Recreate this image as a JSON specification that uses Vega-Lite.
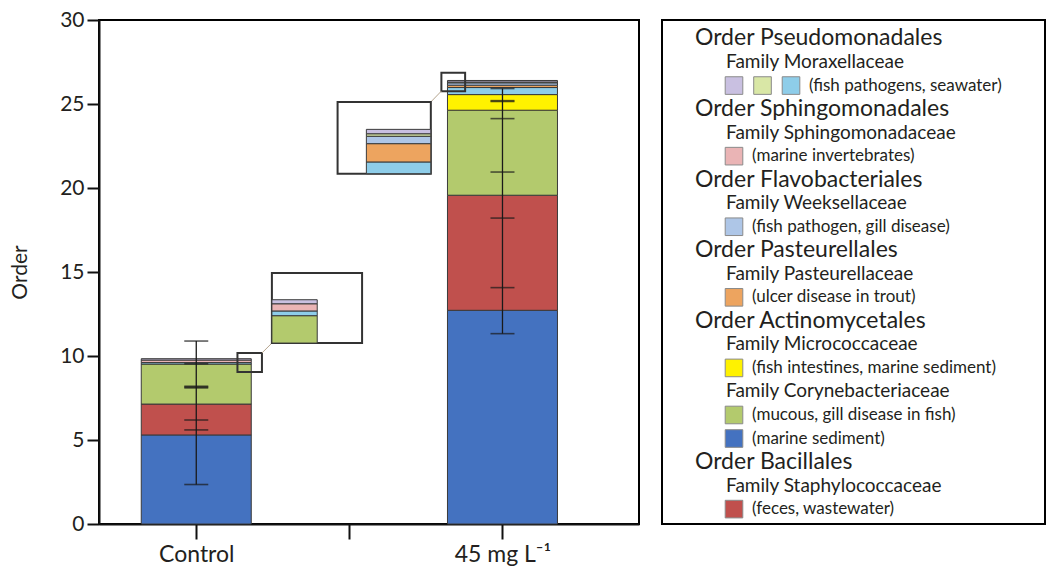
{
  "$schema": "https://vega.github.io/schema/vega-lite/v6.json",
  "padding": {"left": 8, "top": 8, "right": 0, "bottom": 0},
  "background": "white",
  "spacing": 21,
  "config": {
    "view": {"stroke": "black", "strokeWidth": 2},
    "font": "Lato",
    "text": {"font": "Lato", "color": "#231f20"}
  },
  "datasets": {
    "bars": [
      {"treatment": "Control", "pos": 1, "taxon": "Corynebacteriaceae (marine sediment)", "rank": 1, "value": 5.30},
      {"treatment": "Control", "pos": 1, "taxon": "Staphylococcaceae", "rank": 2, "value": 1.84},
      {"treatment": "Control", "pos": 1, "taxon": "Corynebacteriaceae (mucous)", "rank": 3, "value": 2.38},
      {"treatment": "Control", "pos": 1, "taxon": "Moraxellaceae (c)", "rank": 5, "value": 0.09},
      {"treatment": "Control", "pos": 1, "taxon": "Sphingomonadaceae", "rank": 9, "value": 0.15},
      {"treatment": "Control", "pos": 1, "taxon": "Moraxellaceae (a)", "rank": 10, "value": 0.08},
      {"treatment": "45 mg L-1", "pos": 3, "taxon": "Corynebacteriaceae (marine sediment)", "rank": 1, "value": 12.72},
      {"treatment": "45 mg L-1", "pos": 3, "taxon": "Staphylococcaceae", "rank": 2, "value": 6.85},
      {"treatment": "45 mg L-1", "pos": 3, "taxon": "Corynebacteriaceae (mucous)", "rank": 3, "value": 5.06},
      {"treatment": "45 mg L-1", "pos": 3, "taxon": "Micrococcaceae", "rank": 4, "value": 0.93},
      {"treatment": "45 mg L-1", "pos": 3, "taxon": "Moraxellaceae (c)", "rank": 5, "value": 0.42},
      {"treatment": "45 mg L-1", "pos": 3, "taxon": "Pasteurellaceae", "rank": 6, "value": 0.14},
      {"treatment": "45 mg L-1", "pos": 3, "taxon": "Weeksellaceae", "rank": 7, "value": 0.14},
      {"treatment": "45 mg L-1", "pos": 3, "taxon": "Moraxellaceae (b)", "rank": 8, "value": 0.05},
      {"treatment": "45 mg L-1", "pos": 3, "taxon": "Moraxellaceae (a)", "rank": 10, "value": 0.09}
    ],
    "errors": [
      {"treatment": "Control", "pos": 1, "taxon": "Corynebacteriaceae (marine sediment)", "lo": 2.35, "hi": 8.2},
      {"treatment": "Control", "pos": 1, "taxon": "Staphylococcaceae", "lo": 6.19, "hi": 8.1},
      {"treatment": "Control", "pos": 1, "taxon": "Corynebacteriaceae (mucous)", "lo": 8.15, "hi": 10.89},
      {"treatment": "Control", "pos": 1, "taxon": "upper taxa", "lo": 5.6, "hi": 9.54},
      {"treatment": "45 mg L-1", "pos": 3, "taxon": "Corynebacteriaceae (marine sediment)", "lo": 11.33, "hi": 14.07},
      {"treatment": "45 mg L-1", "pos": 3, "taxon": "Staphylococcaceae", "lo": 18.21, "hi": 20.95},
      {"treatment": "45 mg L-1", "pos": 3, "taxon": "Corynebacteriaceae (mucous)", "lo": 24.13, "hi": 25.15},
      {"treatment": "45 mg L-1", "pos": 3, "taxon": "Micrococcaceae", "lo": 25.2, "hi": 25.92}
    ],
    "zoomBoxes": [
      {"treatment": "Control", "x0": 1.269, "x1": 1.429, "y0": 9.05, "y1": 10.18},
      {"treatment": "45 mg L-1", "x0": 2.601, "x1": 2.756, "y0": 25.76, "y1": 26.86}
    ],
    "connectors": [
      {"treatment": "Control", "x0": 1.429, "y0": 10.18, "x1": 1.494, "y1": 10.77},
      {"treatment": "45 mg L-1", "x0": 2.601, "y0": 25.77, "x1": 2.532, "y1": 25.12}
    ],
    "insetFrames": [
      {"treatment": "Control", "x0": 1.494, "x1": 2.083, "y0": 10.77, "y1": 14.94},
      {"treatment": "45 mg L-1", "x0": 1.923, "x1": 2.532, "y0": 20.85, "y1": 25.12}
    ],
    "insetSegments": [
      {"treatment": "Control", "taxon": "Corynebacteriaceae (mucous)", "x0": 1.494, "x1": 1.79, "y0": 10.77, "y1": 12.40},
      {"treatment": "Control", "taxon": "Moraxellaceae (c)", "x0": 1.494, "x1": 1.79, "y0": 12.40, "y1": 12.68},
      {"treatment": "Control", "taxon": "Sphingomonadaceae", "x0": 1.494, "x1": 1.79, "y0": 12.68, "y1": 13.11},
      {"treatment": "Control", "taxon": "Moraxellaceae (a)", "x0": 1.494, "x1": 1.79, "y0": 13.11, "y1": 13.35},
      {"treatment": "45 mg L-1", "taxon": "Moraxellaceae (c)", "x0": 2.111, "x1": 2.532, "y0": 20.85, "y1": 21.55},
      {"treatment": "45 mg L-1", "taxon": "Pasteurellaceae", "x0": 2.111, "x1": 2.532, "y0": 21.55, "y1": 22.64},
      {"treatment": "45 mg L-1", "taxon": "Weeksellaceae", "x0": 2.111, "x1": 2.532, "y0": 22.64, "y1": 23.08},
      {"treatment": "45 mg L-1", "taxon": "Moraxellaceae (b)", "x0": 2.111, "x1": 2.532, "y0": 23.08, "y1": 23.23},
      {"treatment": "45 mg L-1", "taxon": "Moraxellaceae (a)", "x0": 2.111, "x1": 2.532, "y0": 23.23, "y1": 23.49}
    ],
    "legend": [
      {"line": 1, "kind": "order", "slot": 0, "label": "Order Pseudomonadales"},
      {"line": 2, "kind": "family", "slot": 1, "label": "Family Moraxellaceae"},
      {"line": 3, "kind": "swatch", "slot": 1, "taxon": "Moraxellaceae (a)"},
      {"line": 3, "kind": "swatch", "slot": 2, "taxon": "Moraxellaceae (b)"},
      {"line": 3, "kind": "swatch", "slot": 3, "taxon": "Moraxellaceae (c)"},
      {"line": 3, "kind": "note", "slot": 3, "label": "(fish pathogens, seawater)"},
      {"line": 4, "kind": "order", "slot": 0, "label": "Order Sphingomonadales"},
      {"line": 5, "kind": "family", "slot": 1, "label": "Family Sphingomonadaceae"},
      {"line": 6, "kind": "swatch", "slot": 1, "taxon": "Sphingomonadaceae"},
      {"line": 6, "kind": "note", "slot": 1, "label": "(marine invertebrates)"},
      {"line": 7, "kind": "order", "slot": 0, "label": "Order Flavobacteriales"},
      {"line": 8, "kind": "family", "slot": 1, "label": "Family Weeksellaceae"},
      {"line": 9, "kind": "swatch", "slot": 1, "taxon": "Weeksellaceae"},
      {"line": 9, "kind": "note", "slot": 1, "label": "(fish pathogen, gill disease)"},
      {"line": 10, "kind": "order", "slot": 0, "label": "Order Pasteurellales"},
      {"line": 11, "kind": "family", "slot": 1, "label": "Family Pasteurellaceae"},
      {"line": 12, "kind": "swatch", "slot": 1, "taxon": "Pasteurellaceae"},
      {"line": 12, "kind": "note", "slot": 1, "label": "(ulcer disease in trout)"},
      {"line": 13, "kind": "order", "slot": 0, "label": "Order Actinomycetales"},
      {"line": 14, "kind": "family", "slot": 1, "label": "Family Micrococcaceae"},
      {"line": 15, "kind": "swatch", "slot": 1, "taxon": "Micrococcaceae"},
      {"line": 15, "kind": "note", "slot": 1, "label": "(fish intestines, marine sediment)"},
      {"line": 16, "kind": "family", "slot": 1, "label": "Family Corynebacteriaceae"},
      {"line": 17, "kind": "swatch", "slot": 1, "taxon": "Corynebacteriaceae (mucous)"},
      {"line": 17, "kind": "note", "slot": 1, "label": "(mucous, gill disease in fish)"},
      {"line": 18, "kind": "swatch", "slot": 1, "taxon": "Corynebacteriaceae (marine sediment)"},
      {"line": 18, "kind": "note", "slot": 1, "label": "(marine sediment)"},
      {"line": 19, "kind": "order", "slot": 0, "label": "Order Bacillales"},
      {"line": 20, "kind": "family", "slot": 1, "label": "Family Staphylococcaceae"},
      {"line": 21, "kind": "swatch", "slot": 1, "taxon": "Staphylococcaceae"},
      {"line": 21, "kind": "note", "slot": 1, "label": "(feces, wastewater)"}
    ]
  },
  "hconcat": [
    {
      "width": 540,
      "height": 504,
      "layer": [
        {
          "data": {"name": "bars"},
          "mark": {"type": "bar", "width": 110, "stroke": "#3a3a3a", "strokeWidth": 1},
          "encoding": {
            "x": {
              "field": "pos", "type": "quantitative",
              "scale": {"domain": [0.3974, 3.859], "nice": false, "zero": false},
              "axis": {
                "values": [1, 2, 3], "title": null, "grid": false,
                "labelExpr": "datum.value == 1 ? 'Control' : datum.value == 3 ? '45 mg L⁻¹' : ''",
                "tickSize": 15, "tickWidth": 2, "tickColor": "#111", "domainColor": "#111", "domainWidth": 2,
                "labelFont": "Lato", "labelFontSize": 23, "labelColor": "#231f20", "labelPadding": 4
              }
            },
            "y": {
              "field": "value", "type": "quantitative", "stack": "zero",
              "scale": {"domain": [0, 30], "nice": false},
              "axis": {
                "values": [0, 5, 10, 15, 20, 25, 30], "title": "Order", "grid": false,
                "tickSize": 12, "tickWidth": 2, "tickColor": "#111", "domainColor": "#111", "domainWidth": 2,
                "labelFont": "Lato", "labelFontSize": 21, "labelColor": "#231f20", "labelPadding": 3,
                "titleFont": "Lato", "titleFontSize": 21, "titleFontWeight": "normal", "titleColor": "#231f20", "titlePadding": 19,
                "minExtent": 50, "maxExtent": 50
              }
            },
            "color": {
              "field": "taxon", "type": "nominal", "legend": null,
              "scale": {
                "domain": ["Moraxellaceae (a)", "Moraxellaceae (b)", "Moraxellaceae (c)", "Sphingomonadaceae", "Weeksellaceae", "Pasteurellaceae", "Micrococcaceae", "Corynebacteriaceae (mucous)", "Corynebacteriaceae (marine sediment)", "Staphylococcaceae"],
                "range": ["#c9c0e1", "#d9e7a6", "#8ecde9", "#eab4b5", "#aec6e7", "#eda45f", "#fff200", "#b3ca6d", "#4472c0", "#c0504d"]
              }
            },
            "order": {"field": "rank", "type": "quantitative"}
          }
        },
        {
          "data": {"name": "errors"},
          "mark": {"type": "rule", "color": "#1a1a1a", "strokeWidth": 1.3},
          "encoding": {
            "x": {"field": "pos", "type": "quantitative"},
            "y": {"aggregate": "min", "field": "lo", "type": "quantitative"},
            "y2": {"aggregate": "max", "field": "hi"}
          }
        },
        {
          "data": {"name": "errors"},
          "mark": {"type": "tick", "orient": "horizontal", "size": 24, "thickness": 1.6, "color": "#1a1a1a"},
          "encoding": {
            "x": {"field": "pos", "type": "quantitative"},
            "y": {"field": "lo", "type": "quantitative"}
          }
        },
        {
          "data": {"name": "errors"},
          "mark": {"type": "tick", "orient": "horizontal", "size": 24, "thickness": 1.6, "color": "#1a1a1a"},
          "encoding": {
            "x": {"field": "pos", "type": "quantitative"},
            "y": {"field": "hi", "type": "quantitative"}
          }
        },
        {
          "data": {"name": "zoomBoxes"},
          "mark": {"type": "rect", "filled": false, "stroke": "#333333", "strokeWidth": 2},
          "encoding": {
            "x": {"field": "x0", "type": "quantitative"},
            "x2": {"field": "x1"},
            "y": {"field": "y0", "type": "quantitative"},
            "y2": {"field": "y1"}
          }
        },
        {
          "data": {"name": "connectors"},
          "mark": {"type": "rule", "color": "#b5a58f", "strokeWidth": 1},
          "encoding": {
            "x": {"field": "x0", "type": "quantitative"},
            "x2": {"field": "x1"},
            "y": {"field": "y0", "type": "quantitative"},
            "y2": {"field": "y1"}
          }
        },
        {
          "data": {"name": "insetFrames"},
          "mark": {"type": "rect", "fill": "white", "stroke": "#333333", "strokeWidth": 2},
          "encoding": {
            "x": {"field": "x0", "type": "quantitative"},
            "x2": {"field": "x1"},
            "y": {"field": "y0", "type": "quantitative"},
            "y2": {"field": "y1"}
          }
        },
        {
          "data": {"name": "insetSegments"},
          "mark": {"type": "rect", "stroke": "#3a3a3a", "strokeWidth": 1},
          "encoding": {
            "x": {"field": "x0", "type": "quantitative"},
            "x2": {"field": "x1"},
            "y": {"field": "y0", "type": "quantitative"},
            "y2": {"field": "y1"},
            "color": {"field": "taxon", "type": "nominal", "legend": null}
          }
        }
      ]
    },
    {
      "width": 383,
      "height": 504,
      "data": {"name": "legend"},
      "encoding": {
        "x": {"field": "slot", "type": "quantitative", "scale": {"domain": [-1.526, 11.91], "nice": false, "zero": false}, "axis": null},
        "y": {"field": "line", "type": "quantitative", "scale": {"domain": [0.2138, 21.633], "reverse": true, "nice": false, "zero": false}, "axis": null}
      },
      "layer": [
        {
          "transform": [{"filter": "datum.kind === 'order'"}],
          "mark": {"type": "text", "align": "left", "baseline": "middle", "fontSize": 23, "dx": -10.5, "font": "Lato", "color": "#231f20"},
          "encoding": {"text": {"field": "label"}}
        },
        {
          "transform": [{"filter": "datum.kind === 'family'"}],
          "mark": {"type": "text", "align": "left", "baseline": "middle", "fontSize": 19, "dx": -8, "font": "Lato", "color": "#231f20"},
          "encoding": {"text": {"field": "label"}}
        },
        {
          "transform": [{"filter": "datum.kind === 'note'"}],
          "mark": {"type": "text", "align": "left", "baseline": "middle", "fontSize": 17, "dx": 18, "font": "Lato", "color": "#231f20"},
          "encoding": {"text": {"field": "label"}}
        },
        {
          "transform": [{"filter": "datum.kind === 'swatch'"}],
          "mark": {"type": "square", "size": 310, "filled": true, "opacity": 1, "stroke": "#8a8a8a", "strokeWidth": 1},
          "encoding": {
            "color": {
              "field": "taxon", "type": "nominal", "legend": null,
              "scale": {
                "domain": ["Moraxellaceae (a)", "Moraxellaceae (b)", "Moraxellaceae (c)", "Sphingomonadaceae", "Weeksellaceae", "Pasteurellaceae", "Micrococcaceae", "Corynebacteriaceae (mucous)", "Corynebacteriaceae (marine sediment)", "Staphylococcaceae"],
                "range": ["#c9c0e1", "#d9e7a6", "#8ecde9", "#eab4b5", "#aec6e7", "#eda45f", "#fff200", "#b3ca6d", "#4472c0", "#c0504d"]
              }
            }
          }
        }
      ]
    }
  ]
}
